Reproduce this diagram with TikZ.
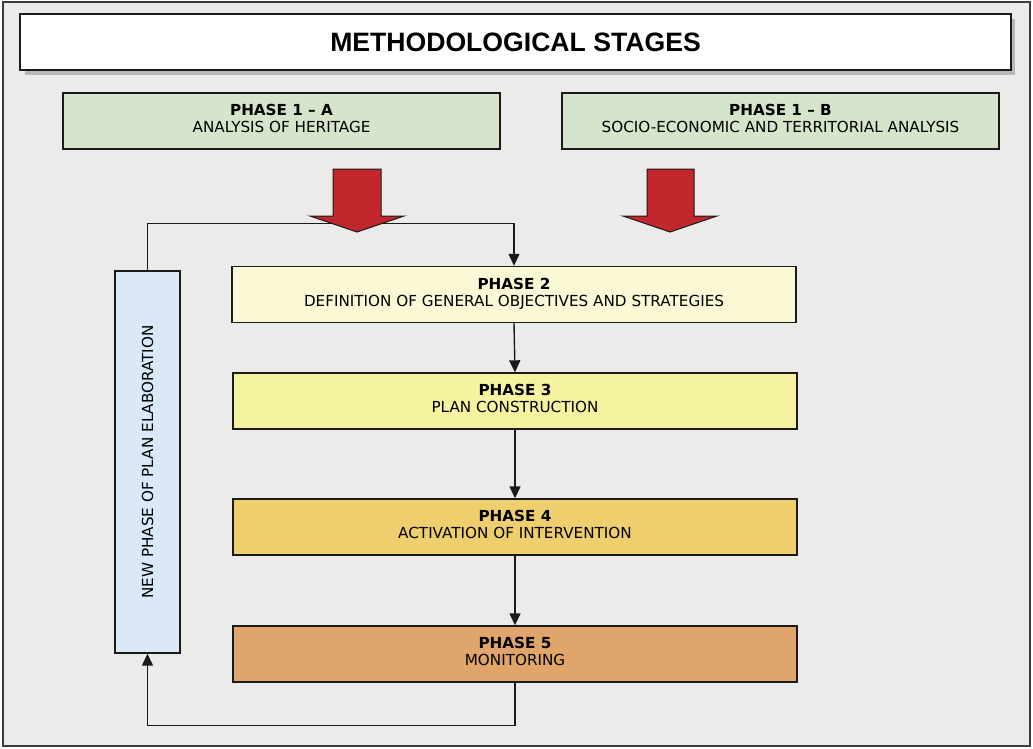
\documentclass[tikz,border=0pt]{standalone}
\usepackage{fontspec}
\setmainfont{DejaVu Sans}
\newfontfamily\titlefont{Liberation Sans}
\usetikzlibrary{arrows.meta}
\definecolor{pagebg}{HTML}{EBECE9}
\definecolor{greenbox}{HTML}{D5E4CB}
\definecolor{bluebox}{HTML}{DAE8F8}
\definecolor{phasetwo}{HTML}{FBF8D6}
\definecolor{phasethree}{HTML}{F5F3A0}
\definecolor{phasefour}{HTML}{EFCF6D}
\definecolor{phasefive}{HTML}{E0A56B}
\definecolor{bigred}{HTML}{C1272D}
\definecolor{edge}{HTML}{1A1A1A}
% heading in bold over a plain line, lifted a little above the box centre
\newcommand\twoline[2]{\raisebox{3pt}{\begin{tabular}{@{}c@{}}\textbf{#1}\\#2\end{tabular}}}
\begin{document}
\begin{tikzpicture}[x=1pt,y=-1pt,
  box/.style={draw=edge,line width=1.4pt,rectangle,align=center,
    inner sep=0pt,font=\fontsize{15.2}{17}\selectfont},
  phasebox/.style={box,minimum width=564pt,minimum height=56pt},
  topbox/.style={box,fill=greenbox,minimum width=437pt,minimum height=56pt},
  conn/.style={draw=edge,line width=1.4pt,-{Triangle[length=12pt,width=11pt]}},
  bigarrow/.style={draw=edge,line width=1pt,fill=bigred,line join=miter}]
\useasboundingbox (0,0) rectangle (1033,748);
% page frame
\draw[fill=pagebg,draw=edge!85,line width=1.5pt] (3,2) rectangle (1030,746);
% title banner with its shadow
\fill[black!28] (25,19) rectangle (1015,75);
\node[box,fill=white,minimum width=991pt,minimum height=56pt,
  font=\titlefont\bfseries\fontsize{26.6}{30}\selectfont] (title) at (515.5,42)
  {\raisebox{-1.5pt}{METHODOLOGICAL STAGES}};
% first phase, two parallel analyses
\node[topbox] (p1a) at (281.5,121) {\twoline{PHASE 1 – A}{ANALYSIS OF HERITAGE}};
\node[topbox] (p1b) at (780.5,121) {\twoline{PHASE 1 – B}{SOCIO-ECONOMIC AND TERRITORIAL ANALYSIS}};
% main sequence
\node[phasebox,fill=phasetwo] (p2) at (514,294.5)
  {\twoline{PHASE 2}{DEFINITION OF GENERAL OBJECTIVES AND STRATEGIES}};
\node[phasebox,fill=phasethree] (p3) at (515,401)
  {\twoline{PHASE 3}{PLAN CONSTRUCTION}};
\node[phasebox,fill=phasefour] (p4) at (515,527)
  {\twoline{PHASE 4}{ACTIVATION OF INTERVENTION}};
\node[phasebox,fill=phasefive] (p5) at (515,654)
  {\twoline{PHASE 5}{MONITORING}};
% feedback column
\node[box,fill=bluebox,minimum width=65pt,minimum height=382pt] (loop) at (147.5,462) {};
\node[rotate=90,font=\fontsize{15.2}{17}\selectfont] (looplabel) at (loop.center)
  {NEW PHASE OF PLAN ELABORATION};
% connectors
\draw[conn] (loop.north) -- ++(0,-47) -| (p2.north);
\draw[conn] (p2.south) -- (p3.north);
\draw[conn] (p3.south) -- (p4.north);
\draw[conn] (p4.south) -- (p5.north);
\draw[conn] (p5.south) -- ++(0,43) -| (loop.south);
% block arrows from the analyses
\draw[bigarrow] (333,169) -- (381,169) -- (381,216) -- (404,216) -- (357,232)
  -- (310,216) -- (333,216) -- cycle;
\draw[bigarrow] (647,169) -- (694,169) -- (694,216) -- (717,216) -- (670,232)
  -- (623,216) -- (647,216) -- cycle;
\end{tikzpicture}
\end{document}
